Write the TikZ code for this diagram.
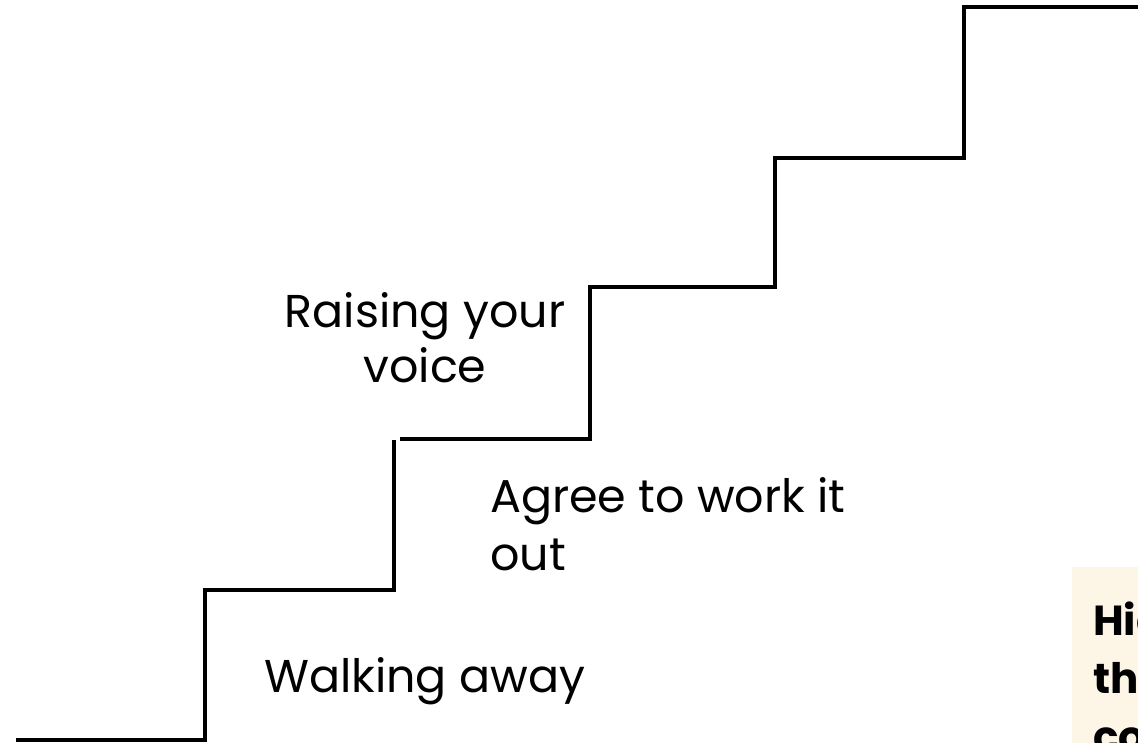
\documentclass[tikz,border=0pt]{standalone}
\usepackage{fontspec}
\setmainfont{Poppins}
\usepackage{xcolor}
\usepackage{tikz}
\usetikzlibrary{positioning}

\definecolor{notecream}{HTML}{FDF6E6}

\begin{document}
\begin{tikzpicture}[
    x=1pt, y=-1pt,
    stair/.style={line width=3.8pt, line cap=butt, line join=miter},
    label/.style={align=center, inner sep=0pt, font=\fontsize{46}{55}\selectfont},
    notebox/.style={fill=notecream, align=left, anchor=north west, inner xsep=21pt, inner ysep=24pt,
        minimum width=300pt, minimum height=220pt, text width=262pt,
        font=\fontsize{42}{58}\selectfont\bfseries}
]
\useasboundingbox (0,0) rectangle (1138,742);
\clip (0,0) rectangle (1138,742);

% lower flight
\draw[stair] (16,740) -- (205,740) -- (205,590) -- (394,590) -- (394,440);
% upper flight
\draw[stair] (400,439) -- (590,439) -- (590,287) -- (775,287) -- (775,158)
    -- (964,158) -- (964,7) -- (1140,7);

% base anchor sits on the last line
\node[label, anchor=base] (raise) at (425,382) {Raising your\\voice};
\node[label, align=left, anchor=base west, font=\fontsize{46}{58}\selectfont] (agree) at (490,570) {Agree to work it\\out};
\node[label, anchor=base west] (walk) at (264,692) {Walking away};

\node[notebox] (note) at (1072,567) {Hig\\the\\com};
\end{tikzpicture}
\end{document}
